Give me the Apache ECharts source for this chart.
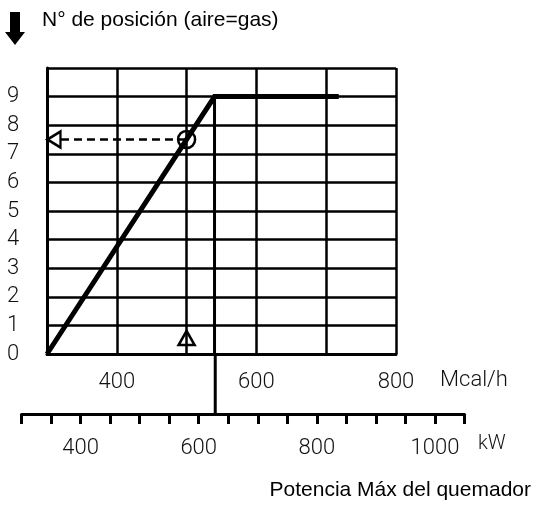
<!DOCTYPE html>
<html>
<head>
<meta charset="utf-8">
<script src="https://cdn.jsdelivr.net/npm/echarts@6/dist/echarts.min.js"></script>
<style>html,body{margin:0;padding:0;background:#fff}#c{width:534px;height:509px}</style>
</head>
<body>
<div id="c"></div>
<script>
// ---- data ----
const yTickLabels = ['0','1','2','3','4','5','6','7','8','9'];
const mcalTickLabels = ['400','600','800'];
const kwTickLabels = ['400','600','800','1000'];
const curveMcal = [300, 540, 718];
const curvePos = [0, 9, 9];
const cornerMcal = 540;
const cornerKw = 628;
const readMcal = 500;
const readPos = 7.5;
const leftArrowMcal = 310;
const dashStartMcal = 320;
const upArrowPos = 0.56;

const numFont = 'Roboto';
const numWeight = 300;

const chart = echarts.init(document.getElementById('c'), null, {renderer: 'canvas'});
const black = '#000';
const numStyle = {fontFamily: numFont, fontWeight: numWeight, fontSize: 22, fill: '#111'};
const option = {
  animation: false,
  backgroundColor: '#fff',
  title: [
    {text: 'N° de posición (aire=gas)', left: 42, top: 10, padding: 0,
     textStyle: {fontFamily: 'Liberation Sans', fontSize: 21, fontWeight: 'normal', color: '#000'}},
    {text: 'Potencia Máx del quemador', right: 3, top: 480, padding: 0,
     textStyle: {fontFamily: 'Liberation Sans', fontSize: 21, fontWeight: 'normal', color: '#000'}}
  ],
  graphic: [
    {type: 'polygon', shape: {points: [[10,12],[20,12],[20,32],[25,32],[15,45],[5,32],[10,32]]}, style: {fill: '#000'}},
    {type: 'text', left: 440, top: 369, style: Object.assign({text: 'Mcal/h'}, numStyle)},
    {type: 'text', left: 478, top: 434, style: Object.assign({text: 'kW'}, numStyle, {fontSize: 20})}
  ],
  grid: [
    {left: 47, top: 68, width: 349, height: 286, show: false},
    {left: 21.5, top: 354, width: 443, height: 60, show: false}
  ],
  xAxis: [
    {type: 'value', gridIndex: 0, min: 300, max: 800, interval: 100,
     axisLine: {show: true, lineStyle: {color: black, width: 3}},
     axisTick: {show: false},
     splitLine: {show: true, lineStyle: {color: black, width: 2.5}},
     axisLabel: {margin: 17, fontFamily: numFont, fontWeight: numWeight, fontSize: 22, color: '#111',
       formatter: v => mcalTickLabels.includes(String(v)) ? String(v) : ''}
    },
    {type: 'value', gridIndex: 1, min: 300, max: 1050, interval: 50,
     axisLine: {show: true, lineStyle: {color: black, width: 3}},
     axisTick: {show: true, length: 10, lineStyle: {color: black, width: 3}},
     splitLine: {show: false},
     axisLabel: {margin: 23, fontFamily: numFont, fontWeight: numWeight, fontSize: 22, color: '#111',
       showMinLabel: true, showMaxLabel: true, interval: 0,
       formatter: v => kwTickLabels.includes(String(v)) ? String(v) : ''}
    }
  ],
  yAxis: [
    {type: 'value', gridIndex: 0, min: 0, max: 10, interval: 1,
     axisLine: {show: true, lineStyle: {color: black, width: 3}},
     axisTick: {show: false},
     splitLine: {show: true, lineStyle: {color: black, width: 2.5}},
     axisLabel: {margin: 34, align: 'center', fontFamily: numFont, fontWeight: numWeight, fontSize: 22, color: '#111',
       padding: [0,0,3,0],
       formatter: v => yTickLabels.includes(String(v)) ? String(v) : ''}
    },
    {type: 'value', gridIndex: 1, min: 0, max: 1, show: false}
  ],
  series: [
    {type: 'line', xAxisIndex: 0, yAxisIndex: 0, data: curveMcal.map((x, i) => [x, curvePos[i]]),
     showSymbol: false, symbol: 'none', lineStyle: {color: black, width: 5, join: 'miter', cap: 'butt'}, z: 5},
    {type: 'line', xAxisIndex: 0, yAxisIndex: 0, data: [[cornerMcal, curvePos[1]], [cornerMcal, 0]],
     symbol: 'none', lineStyle: {color: black, width: 3}, z: 4},
    {type: 'line', xAxisIndex: 1, yAxisIndex: 1, data: [[cornerKw, 1], [cornerKw, 0]],
     symbol: 'none', lineStyle: {color: black, width: 3}, z: 4},
    {type: 'line', xAxisIndex: 0, yAxisIndex: 0, data: [[dashStartMcal, readPos], [readMcal, readPos]],
     symbol: 'none', lineStyle: {color: black, width: 2.5, type: [8, 5]}, z: 5},
    {type: 'scatter', xAxisIndex: 0, yAxisIndex: 0, data: [[readMcal, readPos]],
     symbol: 'circle', symbolSize: 17, itemStyle: {color: 'transparent', borderColor: black, borderWidth: 2.5, opacity: 1}, z: 6},
    {type: 'scatter', xAxisIndex: 0, yAxisIndex: 0, data: [[leftArrowMcal, readPos]],
     symbol: 'triangle', symbolRotate: 90, symbolSize: [16, 13], itemStyle: {color: 'transparent', borderColor: black, borderWidth: 2.5, opacity: 1}, z: 6},
    {type: 'scatter', xAxisIndex: 0, yAxisIndex: 0, data: [[readMcal, upArrowPos]],
     symbol: 'triangle', symbolSize: [16, 14], itemStyle: {color: 'transparent', borderColor: black, borderWidth: 2.5, opacity: 1}, z: 6}
  ]
};
chart.setOption(option);
</script>
</body>
</html>
